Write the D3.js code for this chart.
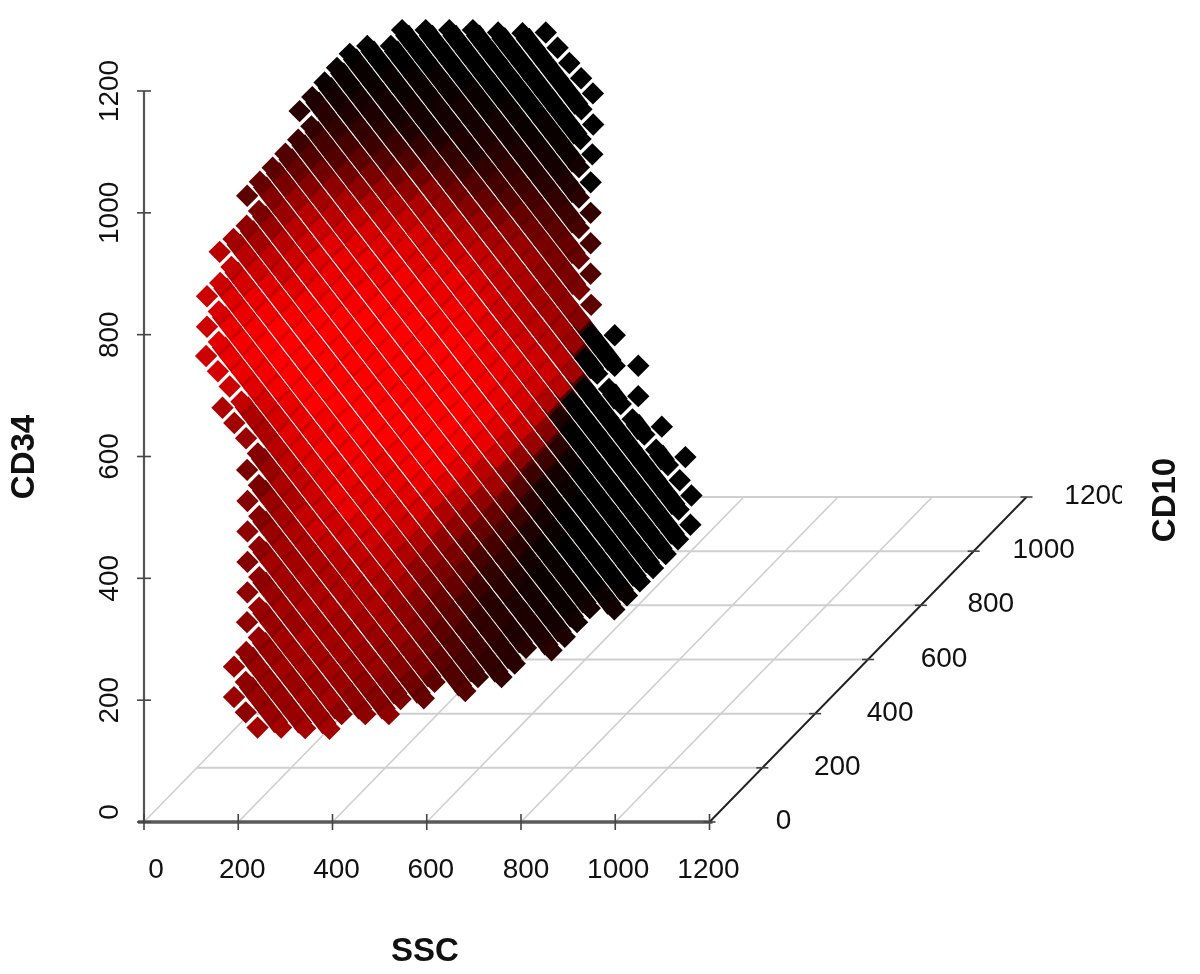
<!DOCTYPE html>
<html>
<head>
<meta charset="utf-8">
<script src="https://cdn.jsdelivr.net/npm/d3@7"></script>
<style>
  html, body { margin: 0; background: #fff; }
  text { font-family: "Liberation Sans", Arial, sans-serif; fill: #111; }
</style>
</head>
<body>
<div id="chart"></div>
<script>
var width = 1200, height = 974;

var sscTicks = [0, 200, 400, 600, 800, 1000, 1200];
var cd34Ticks = [0, 200, 400, 600, 800, 1000, 1200];
var cd10Ticks = [0, 200, 400, 600, 800, 1000, 1200];

// points are read as diagonal strands of a 25 unit grid: each strand starts
// at (strandSSC, strandCD34) and steps +25 SSC / -25 CD34 per value
var strandSSC = [191, 191, 217, 218.6, 219.4, 219.6, 219.6, 219.6, 218.8, 166.6, 131.8, 133.7, 133.7, 161.7, 160.6, 189.9, 217.9, 219,
  245.9, 273.1, 300, 327.2, 330.2, 357.1, 383.2, 409.5, 436.7, 473.8, 523.9, 547.7, 597.8, 647.8, 697.9, 751.4, 803.2, 852.6];
var strandCD34 = [205, 255, 279, 328, 377, 427, 477, 527, 578, 680, 765, 813, 863, 885, 936, 957, 979, 1028,
  1051, 1074, 1097, 1120, 1167, 1190, 1214, 1238, 1261, 1274, 1274, 1300, 1300, 1300, 1300, 1296, 1295, 1296];

// density per point, 0 (black) to 25 (full red); null = no point there
var strandDensity = [
  [15,14,16],
  [15,14,15,15,16],
  [14,15,15,15,15,16],
  [14,15,15,16,15,16,15,16],
  [14,15,15,16,16,16,15,16,14],
  [13,14,15,16,15,17,16,16,15,14,14],
  [14,14,16,16,16,17,16,16,16,15,14,13,14],
  [13,13,15,16,16,17,17,17,16,16,15,15,13,12],
  [12,12,15,16,17,17,17,17,17,17,16,15,14,13,11,10],
  [17,16,15,13,15,17,17,19,20,19,18,18,17,17,16,15,13,12,9],
  [20,21,20,19,17,17,18,19,19,20,20,20,20,19,18,17,15,14,13,11,9,8,8],
  [20,22,23,23,22,21,21,22,22,22,22,23,23,21,20,19,18,16,13,11,9,8,7,6],
  [20,21,23,24,24,24,24,23,23,23,24,23,23,22,22,21,19,17,14,12,10,9,7,6,5,5],
  [20,22,23,24,25,25,25,25,25,24,24,24,24,23,22,21,20,17,14,12,10,7,5,5,4,4],
  [18,19,21,23,24,25,25,25,25,25,25,25,25,24,23,23,22,21,18,14,12,9,6,4,4,3,4],
  [16,18,20,22,23,24,25,25,25,25,25,25,25,25,24,24,23,21,17,14,10,7,5,4,3,3,3,4],
  [14,16,19,20,22,24,25,25,25,25,25,25,25,25,25,25,24,22,18,14,10,7,5,3,2,2,2,3],
  [9,12,15,18,20,22,23,24,25,25,25,25,25,25,25,25,25,24,22,19,14,10,7,4,2,1,1,1,2],
  [10,13,15,18,20,22,23,24,24,25,25,25,25,25,25,25,25,24,22,18,16,10,6,3,1,1,1,1,2],
  [9,12,15,18,20,22,23,23,24,25,25,25,25,25,25,25,25,24,23,20,13,8,4,2,1,0,0,0,1,2],
  [8,10,13,16,18,20,22,23,23,24,24,25,25,25,25,25,24,24,22,19,14,6,2,1,0,0,0,0,0,1],
  [6,8,11,14,17,19,21,22,23,24,24,24,24,25,25,24,24,23,22,20,15,6,2,1,0,0,0,0,0,0],
  [4,5,7,8,11,14,17,19,21,22,22,23,23,24,24,24,23,23,22,21,19,13,4,1,0,0,0,0,0,0,0],
  [3,4,5,7,9,12,15,17,19,21,21,22,23,23,23,22,22,22,21,20,17,3,0,0,0,0,0,0,0,0,0],
  [1,2,3,5,6,8,11,14,17,18,19,20,21,21,21,20,20,20,20,20,18,0,0,0,0,0,0,0,0,0,0],
  [1,1,2,3,4,6,8,11,14,15,17,18,19,19,19,19,18,18,18,18,16,0,0,0,0,0,0,0,0,0,0],
  [0,1,1,2,2,3,5,7,9,11,13,15,16,17,17,17,16,16,16,15,0,0,0,0,0,0,0,0,0,0],
  [0,0,1,1,2,2,3,5,6,8,10,12,14,15,15,14,14,14,13,0,0,0,null,0,null,0,null,0],
  [0,0,1,1,2,2,3,3,5,7,8,10,11,12,12,12,12,9,null,0,null,0],
  [0,0,0,1,1,2,2,3,4,5,6,7,8,9,10,10,8],
  [0,0,0,0,1,1,2,2,3,3,4,5,6,7,7],
  [0,0,0,0,0,1,1,1,2,2,3,4,5],
  [0,0,0,0,0,0,1,1,1,2,0],
  [0,0,0,0,0,0,0,0,0],
  [0,0,0,0,0,0,0],
  [0,0,0,0,0]
];

var x = d3.scaleLinear().domain([0, 1200]).range([144, 709.5]);
var y = d3.scaleLinear().domain([0, 1200]).range([822, 91]);
// CD10 runs into the page: shift of the floor in px
var depthX = d3.scaleLinear().domain([0, 1200]).range([0, 317]);
var depthY = d3.scaleLinear().domain([0, 1200]).range([0, -325]);
var color = d3.scaleLinear().domain([0, 25]).range(['#000000', '#ff0000']);

var svg = d3.select('#chart')
            .append('svg')
            .attr('width', width)
            .attr('height', height)
            .style('display', 'block')
            .style('filter', 'blur(0.5px)');

// the right hand labels are cut off by the edge of the original plot
svg.append('clipPath').attr('id', 'plotclip')
   .append('rect').attr('x', 0).attr('y', 0).attr('width', 1122).attr('height', height);

// floor grid
var grid = svg.append('g').attr('stroke', '#cfcfcf').attr('fill', 'none');
cd10Ticks.forEach(function(t){
  grid.append('line')
      .attr('x1', x(0) + depthX(t)).attr('x2', x(1200) + depthX(t))
      .attr('y1', y(0) + depthY(t)).attr('y2', y(0) + depthY(t))
      .attr('stroke-width', 2);
});
sscTicks.forEach(function(t){
  grid.append('line')
      .attr('x1', x(t)).attr('x2', x(t) + depthX(1200))
      .attr('y1', y(0)).attr('y2', y(0) + depthY(1200))
      .attr('stroke-width', 1.6);
});

// axes
var axes = svg.append('g');
axes.append('line').attr('x1', x(0)).attr('x2', x(0)).attr('y1', y(0)).attr('y2', y(1200))
    .attr('stroke', '#555').attr('stroke-width', 2.2);
axes.append('line').attr('x1', x(0) - 6).attr('x2', x(1200) + 3).attr('y1', y(0)).attr('y2', y(0))
    .attr('stroke', '#5a5a5a').attr('stroke-width', 3.6);
axes.append('line').attr('x1', x(1200)).attr('x2', x(1200) + depthX(1200))
    .attr('y1', y(0)).attr('y2', y(0) + depthY(1200))
    .attr('stroke', '#222').attr('stroke-width', 2);

sscTicks.forEach(function(t){
  axes.append('line').attr('x1', x(t)).attr('x2', x(t)).attr('y1', y(0) - 8).attr('y2', y(0) + 8)
      .attr('stroke', '#444').attr('stroke-width', 1.6);
});
cd34Ticks.forEach(function(t){
  axes.append('line').attr('x1', x(0) - 7).attr('x2', x(0) + 7).attr('y1', y(t)).attr('y2', y(t))
      .attr('stroke', '#444').attr('stroke-width', 1.6);
});
cd10Ticks.forEach(function(t){
  axes.append('line').attr('x1', x(1200) + depthX(t) - 6).attr('x2', x(1200) + depthX(t) + 6)
      .attr('y1', y(0) + depthY(t)).attr('y2', y(0) + depthY(t))
      .attr('stroke', '#444').attr('stroke-width', 1.6);
});

// tick labels
var labels = svg.append('g').attr('font-size', 28).attr('text-anchor', 'middle')
                .attr('clip-path', 'url(#plotclip)');
var sscNudge = [12, 4, 4, 4, 5, 3, -1];
sscTicks.forEach(function(t, i){
  labels.append('text').attr('x', x(t) + sscNudge[i]).attr('y', 878).text(t);
});
cd34Ticks.forEach(function(t, i){
  var py = t == 0 ? y(t) - 10 : y(t);
  labels.append('text').attr('transform', 'translate(118,' + py + ') rotate(-90)').text(t);
});
var cd10Nudge = [74, 75, 75, 76, 70, 70, 69];
cd10Ticks.forEach(function(t, i){
  labels.append('text')
        .attr('x', x(1200) + depthX(t) + cd10Nudge[i])
        .attr('y', y(0) + depthY(t) + 7)
        .text(t);
});

// axis titles
var titles = svg.append('g').attr('font-size', 33).attr('font-weight', 'bold').attr('text-anchor', 'middle');
titles.append('text').attr('x', 425).attr('y', 961).text('SSC');
titles.append('text').attr('transform', 'translate(34,457) rotate(-90)').text('CD34');
titles.append('text').attr('transform', 'translate(1175,500) rotate(-90)').text('CD10');

// build the points from the strands
var strands = strandDensity.map(function(vals, k){
  return vals.map(function(d, i){
    return d === null ? null : {
      k: k,
      d: d,
      px: x(strandSSC[k] + 25 * i),
      py: y(strandCD34[k] - 25 * i)
    };
  });
});

function hasPointNear(k, py){
  if (k < 0 || k >= strands.length) return false;
  return strands[k].some(function(p){ return p && Math.abs(p.py - py) < 10; });
}

// inside the cloud the points of a strand run together, only the outer ones stand alone
var links = [];
strands.forEach(function(s, k){
  for (var i = 0; i < s.length - 1; i++){
    var a = s[i], b = s[i + 1];
    if (!a || !b) continue;
    var my = (a.py + b.py) / 2;
    if (hasPointNear(k - 1, my) && hasPointNear(k + 1, my)) links.push([a, b]);
  }
});

var cloud = svg.append('g');

cloud.selectAll('line.link')
     .data(links)
     .enter().append('line')
     .attr('class', 'link')
     .attr('x1', function(l){ return l[0].px; })
     .attr('y1', function(l){ return l[0].py; })
     .attr('x2', function(l){ return l[1].px; })
     .attr('y2', function(l){ return l[1].py; })
     .attr('stroke-width', 17.6)
     .attr('stroke', function(l){ return color((l[0].d + l[1].d) / 2 * 0.88); });

var points = d3.merge(strands).filter(function(p){ return p; });
var diamond = d3.symbol().type(d3.symbolSquare).size(250);

cloud.selectAll('path.pt')
     .data(points)
     .enter().append('path')
     .attr('class', 'pt')
     .attr('d', diamond)
     .attr('transform', function(p){ return 'translate(' + p.px + ',' + p.py + ') rotate(45)'; })
     .attr('fill', function(p){ return color(p.d); });
</script>
</body>
</html>
